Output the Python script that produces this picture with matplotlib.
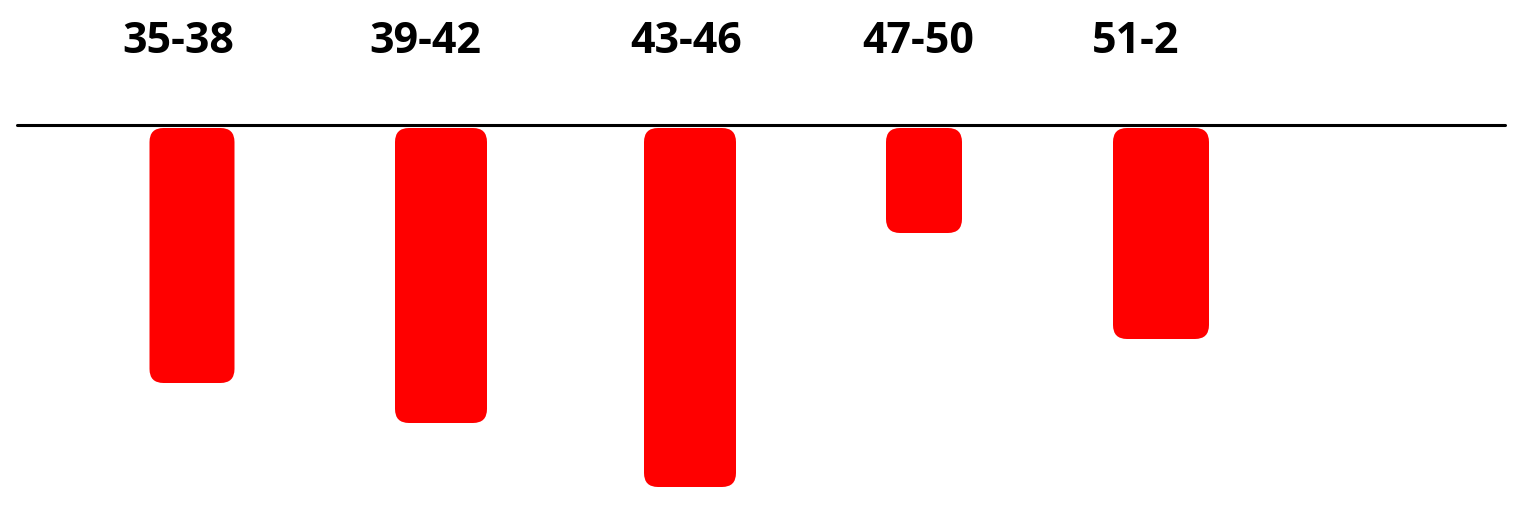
import matplotlib.pyplot as plt
from matplotlib.patches import FancyBboxPatch

# data
groups = ['35-38', '39-42', '43-46', '47-50', '51-2']
values = [255, 295, 359, 105, 211]

# layout (pixel units, baseline at y=0)
bar_x = [192, 441, 690, 924, 1161]
bar_w = [85, 92, 92, 76, 96]
label_x = [178, 425, 686, 918, 1136]

fig = plt.figure(figsize=(15.27, 5.18), dpi=100)
ax = fig.add_axes([0, 0, 1, 1])
ax.set_xlim(0, 1527)
ax.set_ylim(-393, 125)
ax.axis('off')

# baseline
ax.plot([17, 1505], [0, 0], color='black', lw=2.2, solid_capstyle='round')

# bars hanging under the line, then swap them for rounded boxes
bars = ax.bar(bar_x, [-v for v in values], width=bar_w, bottom=-3, color='red')
for b in bars:
    x0, y0 = b.get_x(), b.get_y()
    w, h = b.get_width(), b.get_height()
    if h < 0:
        y0, h = y0 + h, -h
    ax.add_patch(FancyBboxPatch((x0, y0), w, h,
                                boxstyle='round,pad=0,rounding_size=14',
                                fc='red', ec='none'))
    b.set_visible(False)

for x, g in zip(label_x, groups):
    ax.text(x, 72, g, ha='center', va='baseline', fontsize=31,
            fontweight='bold', family='Open Sans', color='black')

fig.savefig('out.png', dpi=100)
